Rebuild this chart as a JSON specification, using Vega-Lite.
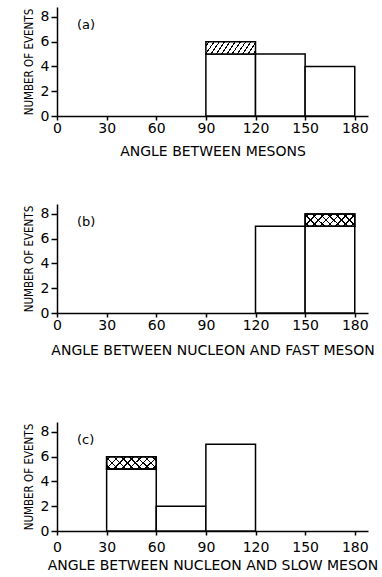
{
  "$schema": "https://vega.github.io/schema/vega-lite/v6.json",
  "background": "white",
  "padding": {"left": 23, "top": 7, "right": 2, "bottom": 0},
  "data": {"values": [
    {"panel": "a", "start": 90, "end": 120, "low": 0, "high": 5, "kind": "plain"},
    {"panel": "a", "start": 120, "end": 150, "low": 0, "high": 5, "kind": "plain"},
    {"panel": "a", "start": 150, "end": 180, "low": 0, "high": 4, "kind": "plain"},
    {"panel": "a", "start": 90, "end": 120, "low": 5, "high": 6, "kind": "hatch"},
    {"panel": "b", "start": 120, "end": 150, "low": 0, "high": 7, "kind": "plain"},
    {"panel": "b", "start": 150, "end": 180, "low": 0, "high": 7, "kind": "plain"},
    {"panel": "b", "start": 150, "end": 180, "low": 7, "high": 8, "kind": "cross"},
    {"panel": "c", "start": 30, "end": 60, "low": 0, "high": 5, "kind": "plain"},
    {"panel": "c", "start": 60, "end": 90, "low": 0, "high": 2, "kind": "plain"},
    {"panel": "c", "start": 90, "end": 120, "low": 0, "high": 7, "kind": "plain"},
    {"panel": "c", "start": 30, "end": 60, "low": 5, "high": 6, "kind": "cross"}
  ]},
  "spacing": 46,
  "vconcat": [
    {
      "width": 311, "height": 109,
      "title": {"text": "(a)", "anchor": "start", "frame": "group", "orient": "top", "offset": -14, "dx": 20, "dy": 11, "fontSize": 13, "fontWeight": "normal", "font": "DejaVu Sans", "color": "black"},
      "transform": [{"filter": "datum.panel === 'a'"}],
      "encoding": {
        "x": {"field": "start", "type": "quantitative", "scale": {"domain": [0, 188], "nice": false, "zero": false}, "axis": {"values": [0, 30, 60, 90, 120, 150, 180], "title": "ANGLE BETWEEN MESONS", "titlePadding": 9}},
        "x2": {"field": "end"},
        "y": {"field": "high", "type": "quantitative", "scale": {"domain": [0, 8.8], "nice": false}, "axis": {"values": [0, 2, 4, 6, 8], "title": "NUMBER OF EVENTS"}},
        "y2": {"field": "low"}
      },
      "layer": [
        {"transform": [{"filter": "datum.kind === 'plain'"}], "mark": {"type": "bar", "fill": "white", "stroke": "black", "strokeWidth": 1.5}},
        {"transform": [{"filter": "datum.kind === 'hatch'"}], "mark": {"type": "bar", "stroke": "black", "strokeWidth": 1.5,
          "fill": {"gradient": "linear", "x1": 0, "y1": 0, "x2": 1.137, "y2": 0.193, "stops": [
            {"offset": 0, "color": "white"},
            {"offset": 0.04, "color": "white"}, {"offset": 0.04, "color": "black"}, {"offset": 0.062, "color": "black"}, {"offset": 0.062, "color": "white"},
            {"offset": 0.131, "color": "white"}, {"offset": 0.131, "color": "black"}, {"offset": 0.153, "color": "black"}, {"offset": 0.153, "color": "white"},
            {"offset": 0.222, "color": "white"}, {"offset": 0.222, "color": "black"}, {"offset": 0.244, "color": "black"}, {"offset": 0.244, "color": "white"},
            {"offset": 0.313, "color": "white"}, {"offset": 0.313, "color": "black"}, {"offset": 0.335, "color": "black"}, {"offset": 0.335, "color": "white"},
            {"offset": 0.404, "color": "white"}, {"offset": 0.404, "color": "black"}, {"offset": 0.426, "color": "black"}, {"offset": 0.426, "color": "white"},
            {"offset": 0.495, "color": "white"}, {"offset": 0.495, "color": "black"}, {"offset": 0.517, "color": "black"}, {"offset": 0.517, "color": "white"},
            {"offset": 0.585, "color": "white"}, {"offset": 0.585, "color": "black"}, {"offset": 0.607, "color": "black"}, {"offset": 0.607, "color": "white"},
            {"offset": 0.676, "color": "white"}, {"offset": 0.676, "color": "black"}, {"offset": 0.698, "color": "black"}, {"offset": 0.698, "color": "white"},
            {"offset": 0.767, "color": "white"}, {"offset": 0.767, "color": "black"}, {"offset": 0.789, "color": "black"}, {"offset": 0.789, "color": "white"},
            {"offset": 0.858, "color": "white"}, {"offset": 0.858, "color": "black"}, {"offset": 0.88, "color": "black"}, {"offset": 0.88, "color": "white"},
            {"offset": 0.949, "color": "white"}, {"offset": 0.949, "color": "black"}, {"offset": 0.971, "color": "black"}, {"offset": 0.971, "color": "white"},
            {"offset": 1, "color": "white"}
          ]}}}
      ]
    },
    {
      "spacing": 65,
      "vconcat": [
        {
          "width": 311, "height": 109,
          "title": {"text": "(b)", "anchor": "start", "frame": "group", "orient": "top", "offset": -14, "dx": 20, "dy": 11, "fontSize": 13, "fontWeight": "normal", "font": "DejaVu Sans", "color": "black"},
          "transform": [{"filter": "datum.panel === 'b'"}],
          "encoding": {
            "x": {"field": "start", "type": "quantitative", "scale": {"domain": [0, 188], "nice": false, "zero": false}, "axis": {"values": [0, 30, 60, 90, 120, 150, 180], "title": "ANGLE BETWEEN NUCLEON AND FAST MESON", "titlePadding": 11}},
            "x2": {"field": "end"},
            "y": {"field": "high", "type": "quantitative", "scale": {"domain": [0, 8.8], "nice": false}, "axis": {"values": [0, 2, 4, 6, 8], "title": "NUMBER OF EVENTS"}},
            "y2": {"field": "low"}
          },
          "layer": [
            {"transform": [{"filter": "datum.kind === 'plain'"}], "mark": {"type": "bar", "fill": "white", "stroke": "black", "strokeWidth": 1.5}},
            {"transform": [{"filter": "datum.kind === 'cross'"}], "mark": {"type": "bar", "stroke": "black", "strokeWidth": 1.5,
              "fill": {"gradient": "linear", "x1": 0, "y1": 0, "x2": 1.178, "y2": 0.298, "stops": [
                {"offset": 0, "color": "white"},
                {"offset": 0.05, "color": "white"}, {"offset": 0.05, "color": "black"}, {"offset": 0.075, "color": "black"}, {"offset": 0.075, "color": "white"},
                {"offset": 0.175, "color": "white"}, {"offset": 0.175, "color": "black"}, {"offset": 0.2, "color": "black"}, {"offset": 0.2, "color": "white"},
                {"offset": 0.3, "color": "white"}, {"offset": 0.3, "color": "black"}, {"offset": 0.325, "color": "black"}, {"offset": 0.325, "color": "white"},
                {"offset": 0.425, "color": "white"}, {"offset": 0.425, "color": "black"}, {"offset": 0.45, "color": "black"}, {"offset": 0.45, "color": "white"},
                {"offset": 0.55, "color": "white"}, {"offset": 0.55, "color": "black"}, {"offset": 0.575, "color": "black"}, {"offset": 0.575, "color": "white"},
                {"offset": 0.675, "color": "white"}, {"offset": 0.675, "color": "black"}, {"offset": 0.7, "color": "black"}, {"offset": 0.7, "color": "white"},
                {"offset": 0.8, "color": "white"}, {"offset": 0.8, "color": "black"}, {"offset": 0.825, "color": "black"}, {"offset": 0.825, "color": "white"},
                {"offset": 0.925, "color": "white"}, {"offset": 0.925, "color": "black"}, {"offset": 0.95, "color": "black"}, {"offset": 0.95, "color": "white"},
                {"offset": 1, "color": "white"}
              ]}}},
            {"transform": [{"filter": "datum.kind === 'cross'"}], "mark": {"type": "bar", "stroke": "black", "strokeWidth": 1.5,
              "fill": {"gradient": "linear", "x1": 0, "y1": 1, "x2": 1.178, "y2": 0.702, "stops": [
                {"offset": 0, "color": "transparent"},
                {"offset": 0.05, "color": "transparent"}, {"offset": 0.05, "color": "black"}, {"offset": 0.075, "color": "black"}, {"offset": 0.075, "color": "transparent"},
                {"offset": 0.175, "color": "transparent"}, {"offset": 0.175, "color": "black"}, {"offset": 0.2, "color": "black"}, {"offset": 0.2, "color": "transparent"},
                {"offset": 0.3, "color": "transparent"}, {"offset": 0.3, "color": "black"}, {"offset": 0.325, "color": "black"}, {"offset": 0.325, "color": "transparent"},
                {"offset": 0.425, "color": "transparent"}, {"offset": 0.425, "color": "black"}, {"offset": 0.45, "color": "black"}, {"offset": 0.45, "color": "transparent"},
                {"offset": 0.55, "color": "transparent"}, {"offset": 0.55, "color": "black"}, {"offset": 0.575, "color": "black"}, {"offset": 0.575, "color": "transparent"},
                {"offset": 0.675, "color": "transparent"}, {"offset": 0.675, "color": "black"}, {"offset": 0.7, "color": "black"}, {"offset": 0.7, "color": "transparent"},
                {"offset": 0.8, "color": "transparent"}, {"offset": 0.8, "color": "black"}, {"offset": 0.825, "color": "black"}, {"offset": 0.825, "color": "transparent"},
                {"offset": 0.925, "color": "transparent"}, {"offset": 0.925, "color": "black"}, {"offset": 0.95, "color": "black"}, {"offset": 0.95, "color": "transparent"},
                {"offset": 1, "color": "transparent"}
              ]}}}
          ]
        },
        {
          "width": 311, "height": 109,
          "title": {"text": "(c)", "anchor": "start", "frame": "group", "orient": "top", "offset": -14, "dx": 20, "dy": 11, "fontSize": 13, "fontWeight": "normal", "font": "DejaVu Sans", "color": "black"},
          "transform": [{"filter": "datum.panel === 'c'"}],
          "encoding": {
            "x": {"field": "start", "type": "quantitative", "scale": {"domain": [0, 188], "nice": false, "zero": false}, "axis": {"values": [0, 30, 60, 90, 120, 150, 180], "title": "ANGLE BETWEEN NUCLEON AND SLOW MESON", "titlePadding": 4, "labelPadding": 5}},
            "x2": {"field": "end"},
            "y": {"field": "high", "type": "quantitative", "scale": {"domain": [0, 8.8], "nice": false}, "axis": {"values": [0, 2, 4, 6, 8], "title": "NUMBER OF EVENTS"}},
            "y2": {"field": "low"}
          },
          "layer": [
            {"transform": [{"filter": "datum.kind === 'plain'"}], "mark": {"type": "bar", "fill": "white", "stroke": "black", "strokeWidth": 1.5}},
            {"transform": [{"filter": "datum.kind === 'cross'"}], "mark": {"type": "bar", "stroke": "black", "strokeWidth": 1.5,
              "fill": {"gradient": "linear", "x1": 0, "y1": 0, "x2": 1.178, "y2": 0.298, "stops": [
                {"offset": 0, "color": "white"},
                {"offset": 0.05, "color": "white"}, {"offset": 0.05, "color": "black"}, {"offset": 0.075, "color": "black"}, {"offset": 0.075, "color": "white"},
                {"offset": 0.175, "color": "white"}, {"offset": 0.175, "color": "black"}, {"offset": 0.2, "color": "black"}, {"offset": 0.2, "color": "white"},
                {"offset": 0.3, "color": "white"}, {"offset": 0.3, "color": "black"}, {"offset": 0.325, "color": "black"}, {"offset": 0.325, "color": "white"},
                {"offset": 0.425, "color": "white"}, {"offset": 0.425, "color": "black"}, {"offset": 0.45, "color": "black"}, {"offset": 0.45, "color": "white"},
                {"offset": 0.55, "color": "white"}, {"offset": 0.55, "color": "black"}, {"offset": 0.575, "color": "black"}, {"offset": 0.575, "color": "white"},
                {"offset": 0.675, "color": "white"}, {"offset": 0.675, "color": "black"}, {"offset": 0.7, "color": "black"}, {"offset": 0.7, "color": "white"},
                {"offset": 0.8, "color": "white"}, {"offset": 0.8, "color": "black"}, {"offset": 0.825, "color": "black"}, {"offset": 0.825, "color": "white"},
                {"offset": 0.925, "color": "white"}, {"offset": 0.925, "color": "black"}, {"offset": 0.95, "color": "black"}, {"offset": 0.95, "color": "white"},
                {"offset": 1, "color": "white"}
              ]}}},
            {"transform": [{"filter": "datum.kind === 'cross'"}], "mark": {"type": "bar", "stroke": "black", "strokeWidth": 1.5,
              "fill": {"gradient": "linear", "x1": 0, "y1": 1, "x2": 1.178, "y2": 0.702, "stops": [
                {"offset": 0, "color": "transparent"},
                {"offset": 0.05, "color": "transparent"}, {"offset": 0.05, "color": "black"}, {"offset": 0.075, "color": "black"}, {"offset": 0.075, "color": "transparent"},
                {"offset": 0.175, "color": "transparent"}, {"offset": 0.175, "color": "black"}, {"offset": 0.2, "color": "black"}, {"offset": 0.2, "color": "transparent"},
                {"offset": 0.3, "color": "transparent"}, {"offset": 0.3, "color": "black"}, {"offset": 0.325, "color": "black"}, {"offset": 0.325, "color": "transparent"},
                {"offset": 0.425, "color": "transparent"}, {"offset": 0.425, "color": "black"}, {"offset": 0.45, "color": "black"}, {"offset": 0.45, "color": "transparent"},
                {"offset": 0.55, "color": "transparent"}, {"offset": 0.55, "color": "black"}, {"offset": 0.575, "color": "black"}, {"offset": 0.575, "color": "transparent"},
                {"offset": 0.675, "color": "transparent"}, {"offset": 0.675, "color": "black"}, {"offset": 0.7, "color": "black"}, {"offset": 0.7, "color": "transparent"},
                {"offset": 0.8, "color": "transparent"}, {"offset": 0.8, "color": "black"}, {"offset": 0.825, "color": "black"}, {"offset": 0.825, "color": "transparent"},
                {"offset": 0.925, "color": "transparent"}, {"offset": 0.925, "color": "black"}, {"offset": 0.95, "color": "black"}, {"offset": 0.95, "color": "transparent"},
                {"offset": 1, "color": "transparent"}
              ]}}}
          ]
        }
      ]
    }
  ],
  "config": {
    "view": {"stroke": null},
    "axis": {"domainColor": "black", "domainWidth": 1.5, "tickColor": "black", "tickWidth": 1.5, "labelColor": "black", "titleColor": "black", "labelFont": "DejaVu Sans", "labelFontSize": 14, "titleFont": "DejaVu Sans", "titleFontSize": 14, "titleFontWeight": "normal", "grid": false},
    "axisX": {"tickSize": 4, "labelPadding": 1, "labelFlush": false, "labelOverlap": false},
    "axisY": {"tickSize": 6, "labelPadding": 2, "titleFont": "DejaVu Sans Condensed, Liberation Sans", "titleFontSize": 11.5, "titlePadding": 6}
  }
}
